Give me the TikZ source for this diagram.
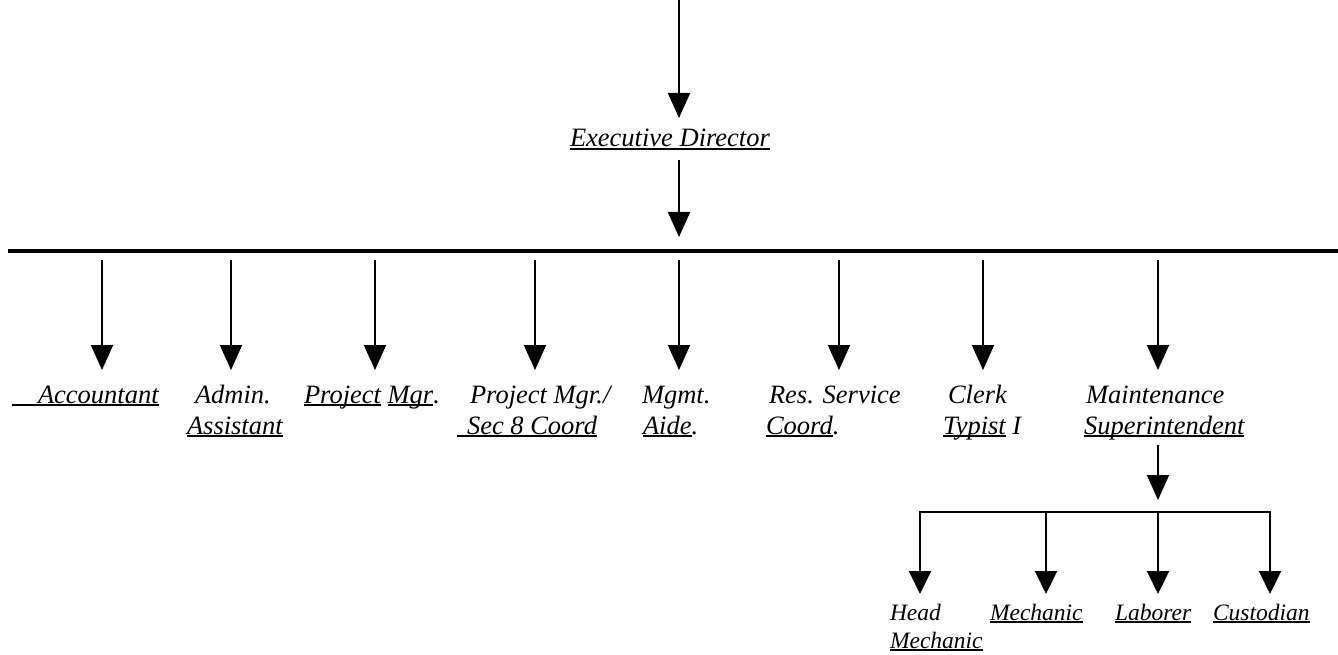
\documentclass[tikz,border=0pt]{standalone}
\usepackage{fontspec}
\setmainfont{Liberation Serif}
\usetikzlibrary{arrows.meta}
\newcommand\ulx[1]{\setbox0\hbox{#1}\rlap{\rule[-3pt]{\wd0}{1.6pt}}\box0\relax}
\tikzset{
  big/.style={font=\fontsize{26.5}{31}\selectfont\itshape},
  small/.style={font=\fontsize{23.5}{28}\selectfont\itshape},
  lbl/.style={anchor=base west, inner sep=0pt, outer sep=0pt},
  arr/.style={line width=2pt, -{Triangle[width=22pt,length=25pt]}},
  sarr/.style={line width=2pt, -{Triangle[width=22pt,length=23pt]}},
}
\begin{document}
\begin{tikzpicture}[x=1pt,y=-1pt]
\useasboundingbox (0,0) rectangle (1338,655);
% Executive director
\coordinate (top) at (679,0);
\coordinate (edtip) at (679,118);
\node[big,lbl] (ed) at (570,147) {\ulx{Executive Director}};
\coordinate (edbot) at (679,160);
\coordinate (bartip) at (679,237);
\draw[arr] (top) -- (edtip);
\draw[arr] (edbot) -- (bartip);
% main bar
\coordinate (barL) at (8,251);
\coordinate (barR) at (1338,251);
\draw[line width=4pt] (barL) -- (barR);
% child arrows
\foreach \n/\x in {a/102,b/231,c/375,d/535,e/679,f/839,g/983,h/1158}{
  \coordinate (s\n) at (\x,260);
  \coordinate (t\n) at (\x,370);
  \draw[arr] (s\n) -- (t\n);
}
% labels row 1
\node[big,lbl] (acc) at (12,403) {\ulx{\hspace*{26pt}Accountant}};
\node[big,lbl] (adm1) at (195,403) {Admin.};
\node[big,lbl] (adm2) at (187,434) {\ulx{Assistant}};
\node[big,lbl] (pm1) at (304,403) {\ulx{Project}\ \ulx{Mgr}.};
\node[big,lbl] (pms1) at (470,403) {Project Mgr./};
\node[big,lbl] (pms2) at (457,434) {\ulx{\hspace*{10pt}Sec 8 Coord}};
\node[big,lbl] (mg1) at (642,403) {Mgmt.};
\node[big,lbl] (mg2) at (643,434) {\ulx{Aide}.};
\node[big,lbl] (rs1) at (769,403) {Res. Service};
\node[big,lbl] (rs2) at (766,434) {\ulx{Coord}.};
\node[big,lbl] (ck1) at (948,403) {Clerk};
\node[big,lbl] (ck2) at (943,434) {\ulx{Typist}\ I};
\node[big,lbl] (ms1) at (1086,403) {Maintenance};
\node[big,lbl] (ms2) at (1084,434) {\ulx{Superintendent}};
% sub arrow
\coordinate (msbot) at (1158,445);
\coordinate (subtip) at (1158,500);
\draw[arr] (msbot) -- (subtip);
\coordinate (sbL) at (919,512);
\coordinate (sbR) at (1271,512);
\draw[line width=1.2pt] (sbL) -- (sbR);
\foreach \n/\x in {p/920,q/1046,r/1158,s/1270}{
  \coordinate (u\n) at (\x,512);
  \coordinate (v\n) at (\x,594);
  \draw[sarr] (u\n) -- (v\n);
}
% bottom labels
\node[small,lbl] (hm1) at (890,620) {Head};
\node[small,lbl] (hm2) at (890,648) {\ulx{Mechanic}};
\node[small,lbl] (mech) at (990,620) {\ulx{Mechanic}};
\node[small,lbl] (lab) at (1115,620) {\ulx{Laborer}};
\node[small,lbl] (cus) at (1213,620) {\ulx{Custodian}};
\end{tikzpicture}
\end{document}
